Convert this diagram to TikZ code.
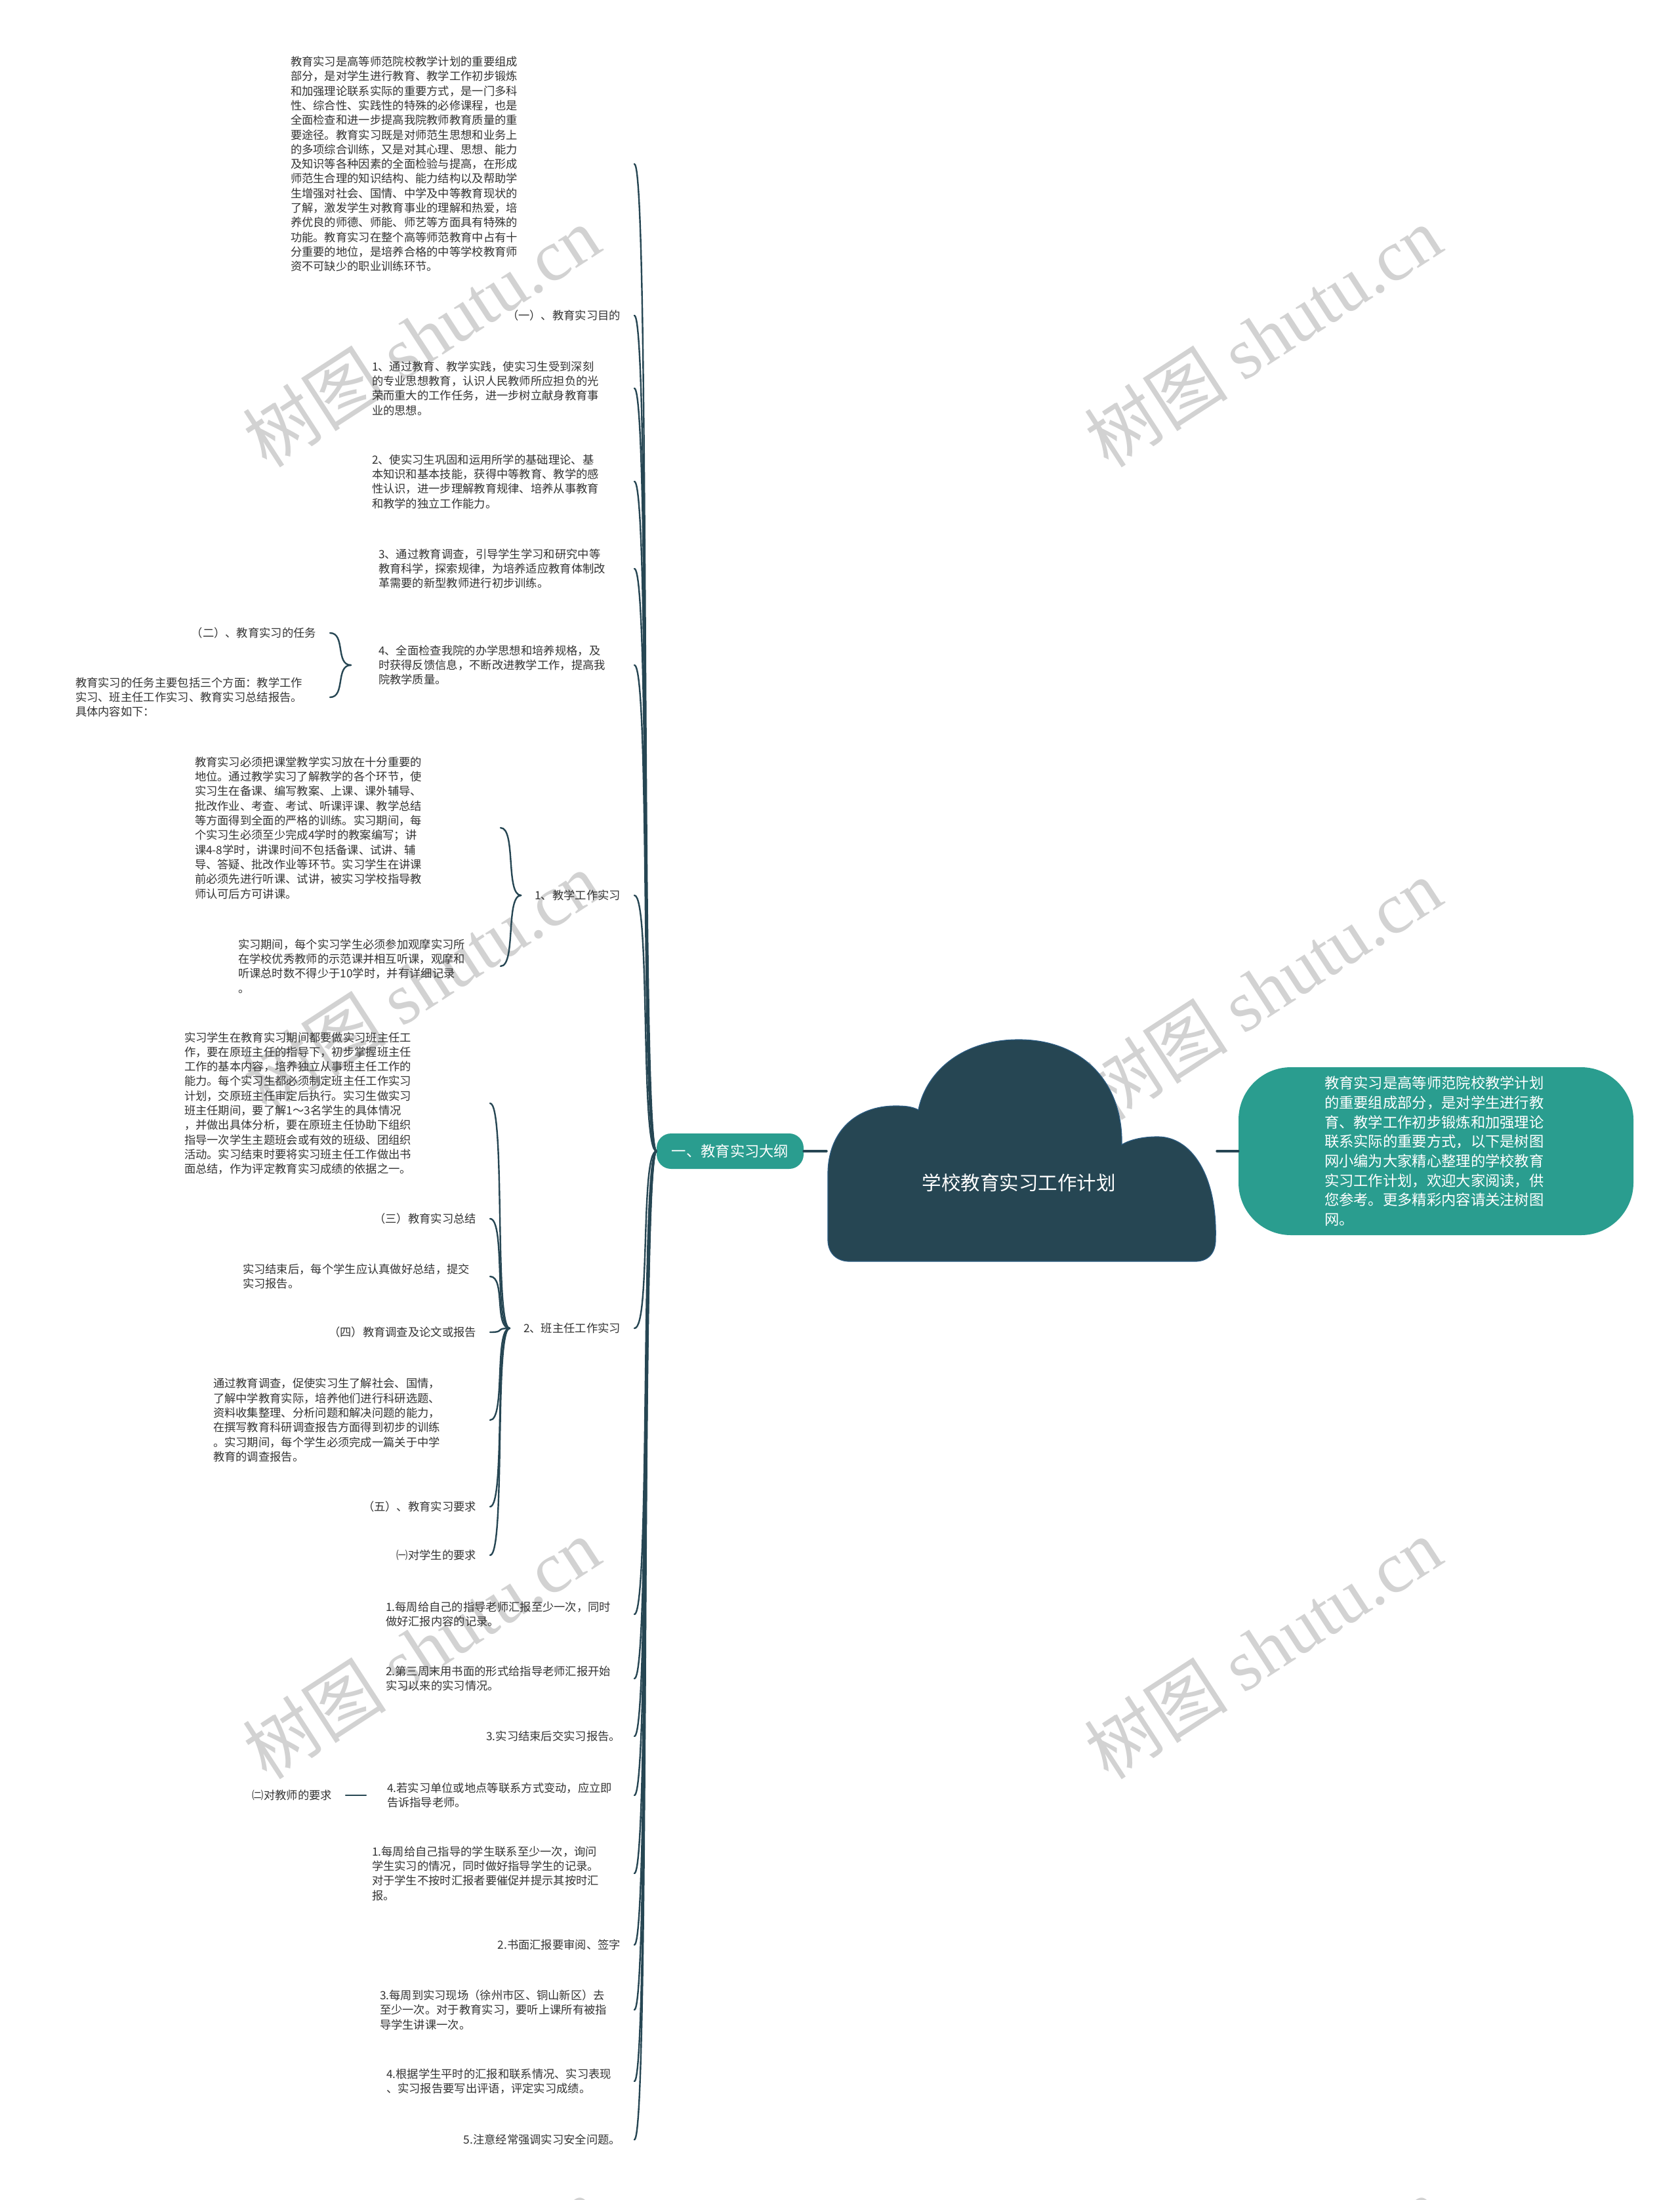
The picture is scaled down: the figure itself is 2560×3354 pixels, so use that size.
\documentclass[tikz,border=0pt]{standalone}
\usepackage{fontspec}
\setmainfont{Noto Sans CJK SC}
\newfontfamily\wmlatin{Liberation Serif}
\usepackage{xcolor}

\definecolor{deepsea}{HTML}{264653}
\definecolor{seagreen}{HTML}{2A9D8F}
\definecolor{inkgray}{HTML}{333333}
\definecolor{markgray}{HTML}{D2D2D2}
\definecolor{cloudedge}{HTML}{2B5C82}

\newcommand{\leafsize}{\fontsize{17.3}{22.3}\selectfont}

\begin{document}
\begin{tikzpicture}[
  x=1pt, y=-1pt,
  leaf/.style={font=\leafsize, text=inkgray, inner sep=0pt, outer xsep=21pt,
               align=left, anchor=east},
  tag/.style={leaf, align=right},
  link/.style={draw=deepsea, line width=2.4pt, line cap=round},
  wmark/.style={text=markgray, font=\fontsize{110}{120}\selectfont, rotate=33}
]
\useasboundingbox (0,0) rectangle (2560,3354);
\fill[white] (0,0) rectangle (2560,3354);

% watermarks
\begin{scope}
\clip (0,0) rectangle (2560,3354);
\foreach \wx/\wy in {642/513, 1925/513, 642/1497, 1925/1508, 642/2513, 1925/2513, 642/3518, 1925/3518}
  \node[wmark] at (\wx,\wy) {树图 {\wmlatin shutu.cn}};
\end{scope}

% cloud
\filldraw[fill=deepsea, draw=cloudedge, line width=1.2pt]
  (1262,1890) .. controls (1262,1910) and (1275,1923) .. (1295,1923)
  -- (1822,1923) .. controls (1842,1923) and (1853,1910) .. (1853,1890)
  .. controls (1856,1790) and (1815,1733) .. (1765,1733)
  .. controls (1740,1733) and (1722,1738) .. (1710,1745)
  .. controls (1712,1650) and (1650,1585) .. (1553,1585)
  .. controls (1460,1585) and (1410,1640) .. (1400,1692)
  .. controls (1390,1687) and (1380,1686) .. (1365,1686)
  .. controls (1305,1686) and (1262,1725) .. (1262,1790)
  -- cycle;
\node[text=white, font=\fontsize{29.5}{34}\selectfont] (root) at (1553,1803) {学校教育实习工作计划};
\coordinate (cloudW) at (1260,1755);
\coordinate (cloudE) at (1855,1755);

\node[fill=seagreen, text=white, font=\fontsize{22.3}{26}\selectfont, rounded corners=22pt,
      minimum width=224pt, minimum height=54pt, inner sep=0pt] (outline) at (1113,1755) {一、教育实习大纲};
\node[fill=seagreen, text=white, font=\fontsize{22.3}{29.7}\selectfont, rounded corners=80pt,
      minimum width=602pt, minimum height=256pt, text width=340pt, align=left, inner sep=0pt] (summary) at (2189,1755)
  {教育实习是高等师范院校教学计划\\
   的重要组成部分，是对学生进行教\\
   育、教学工作初步锻炼和加强理论\\
   联系实际的重要方式，以下是树图\\
   网小编为大家精心整理的学校教育\\
   实习工作计划，欢迎大家阅读，供\\
   您参考。更多精彩内容请关注树图\\
   网。};

\draw[link, line width=3.5pt] (outline.east) -- (cloudW);
\draw[link, line width=3.5pt] (cloudE) -- (summary.west);

% children of the outline
\node[leaf, text width=503pt] (intro) at (967,250)
  {教育实习是高等师范院校教学计划的重要组成\\
   部分，是对学生进行教育、教学工作初步锻炼\\
   和加强理论联系实际的重要方式，是一门多科\\
   性、综合性、实践性的特殊的必修课程，也是\\
   全面检查和进一步提高我院教师教育质量的重\\
   要途径。教育实习既是对师范生思想和业务上\\
   的多项综合训练，又是对其心理、思想、能力\\
   及知识等各种因素的全面检验与提高，在形成\\
   师范生合理的知识结构、能力结构以及帮助学\\
   生增强对社会、国情、中学及中等教育现状的\\
   了解，激发学生对教育事业的理解和热爱，培\\
   养优良的师德、师能、师艺等方面具有特殊的\\
   功能。教育实习在整个高等师范教育中占有十\\
   分重要的地位，是培养合格的中等学校教育师\\
   资不可缺少的职业训练环节。};
\node[tag] (aim) at (967,481) {（一）、教育实习目的};
\node[leaf, text width=379pt] (aim1) at (967,592)
  {1、通过教育、教学实践，使实习生受到深刻\\
   的专业思想教育，认识人民教师所应担负的光\\
   荣而重大的工作任务，进一步树立献身教育事\\
   业的思想。};
\node[leaf, text width=379pt] (aim2) at (967,734)
  {2、使实习生巩固和运用所学的基础理论、基\\
   本知识和基本技能，获得中等教育、教学的感\\
   性认识，进一步理解教育规律、培养从事教育\\
   和教学的独立工作能力。};
\node[leaf, text width=369pt] (aim3) at (967,867)
  {3、通过教育调查，引导学生学习和研究中等\\
   教育科学，探索规律，为培养适应教育体制改\\
   革需要的新型教师进行初步训练。};
\node[leaf, text width=369pt] (aim4) at (967,1014)
  {4、全面检查我院的办学思想和培养规格，及\\
   时获得反馈信息，不断改进教学工作，提高我\\
   院教学质量。};
\node[tag] (teach) at (967,1365) {1、教学工作实习};
\node[tag] (head) at (967,2025) {2、班主任工作实习};
\node[leaf, text width=358pt] (stu1) at (967,2461)
  {1.每周给自己的指导老师汇报至少一次，同时\\
   做好汇报内容的记录。};
\node[leaf, text width=358pt] (stu2) at (967,2559)
  {2.第三周末用书面的形式给指导老师汇报开始\\
   实习以来的实习情况。};
\node[tag] (stu3) at (967,2647) {3.实习结束后交实习报告。};
\node[leaf, text width=356pt] (stu4) at (967,2737)
  {4.若实习单位或地点等联系方式变动，应立即\\
   告诉指导老师。};
\node[leaf, text width=379pt] (tch1) at (967,2856)
  {1.每周给自己指导的学生联系至少一次，询问\\
   学生实习的情况，同时做好指导学生的记录。\\
   对于学生不按时汇报者要催促并提示其按时汇\\
   报。};
\node[tag] (tch2) at (967,2965) {2.书面汇报要审阅、签字};
\node[leaf, text width=367pt] (tch3) at (967,3064)
  {3.每周到实习现场（徐州市区、铜山新区）去\\
   至少一次。对于教育实习，要听上课所有被指\\
   导学生讲课一次。};
\node[leaf, text width=357pt] (tch4) at (967,3173)
  {4.根据学生平时的汇报和联系情况、实习表现\\
   、实习报告要写出评语，评定实习成绩。};
\node[tag] (tch5) at (967,3262) {5.注意经常强调实习安全问题。};

% second level
\node[tag] (task) at (503,965) {（二）、教育实习的任务};
\node[leaf, text width=367pt] (taskinfo) at (503,1063)
  {教育实习的任务主要包括三个方面：教学工作\\
   实习、班主任工作实习、教育实习总结报告。\\
   具体内容如下：};

\node[leaf, text width=445pt] (teachA) at (763,1262)
  {教育实习必须把课堂教学实习放在十分重要的\\
   地位。通过教学实习了解教学的各个环节，使\\
   实习生在备课、编写教案、上课、课外辅导、\\
   批改作业、考查、考试、听课评课、教学总结\\
   等方面得到全面的严格的训练。实习期间，每\\
   个实习生必须至少完成4学时的教案编写；讲\\
   课4-8学时，讲课时间不包括备课、试讲、辅\\
   导、答疑、批改作业等环节。实习学生在讲课\\
   前必须先进行听课、试讲，被实习学校指导教\\
   师认可后方可讲课。};
\node[leaf, text width=379pt] (teachB) at (763,1473)
  {实习期间，每个实习学生必须参加观摩实习所\\
   在学校优秀教师的示范课并相互听课，观摩和\\
   听课总时数不得少于10学时，并有详细记录\\
   。};

\node[leaf, text width=445pt] (headA) at (747,1682)
  {实习学生在教育实习期间都要做实习班主任工\\
   作，要在原班主任的指导下，初步掌握班主任\\
   工作的基本内容，培养独立从事班主任工作的\\
   能力。每个实习生都必须制定班主任工作实习\\
   计划，交原班主任审定后执行。实习生做实习\\
   班主任期间，要了解1～3名学生的具体情况\\
   ，并做出具体分析，要在原班主任协助下组织\\
   指导一次学生主题班会或有效的班级、团组织\\
   活动。实习结束时要将实习班主任工作做出书\\
   面总结，作为评定教育实习成绩的依据之一。};
\node[tag] (sum) at (747,1858) {（三）教育实习总结};
\node[leaf, text width=356pt] (sumA) at (747,1946)
  {实习结束后，每个学生应认真做好总结，提交\\
   实习报告。};
\node[tag] (survey) at (747,2031) {（四）教育调查及论文或报告};
\node[leaf, text width=401pt] (surveyA) at (747,2165)
  {通过教育调查，促使实习生了解社会、国情，\\
   了解中学教育实际，培养他们进行科研选题、\\
   资料收集整理、分析问题和解决问题的能力，\\
   在撰写教育科研调查报告方面得到初步的训练\\
   。实习期间，每个学生必须完成一篇关于中学\\
   教育的调查报告。};
\node[tag] (req) at (747,2297) {（五）、教育实习要求};
\node[tag] (reqstu) at (747,2371) {㈠对学生的要求};

\node[tag] (reqtch) at (527,2737) {㈡对教师的要求};

% connectors
\foreach \kid in {intro,aim,aim1,aim2,aim3,aim4,teach,head,stu1,stu2,stu3,stu4,tch1,tch2,tch3,tch4,tch5}
  \draw[link] (outline.west) .. controls +(-25,0) and +(25,0) .. (\kid.east);
\foreach \kid in {task,taskinfo}
  \draw[link] ([xshift=-21pt]aim4.west) .. controls +(-24,0) and +(24,0) .. (\kid.east);
\foreach \kid in {teachA,teachB}
  \draw[link] (teach.west) .. controls +(-24,0) and +(24,0) .. (\kid.east);
\foreach \kid in {headA,sum,sumA,survey,surveyA,req,reqstu}
  \draw[link] (head.west) .. controls +(-24,0) and +(24,0) .. (\kid.east);
\draw[link] ([xshift=-11pt]stu4.west) -- (reqtch.east);
\end{tikzpicture}
\end{document}
